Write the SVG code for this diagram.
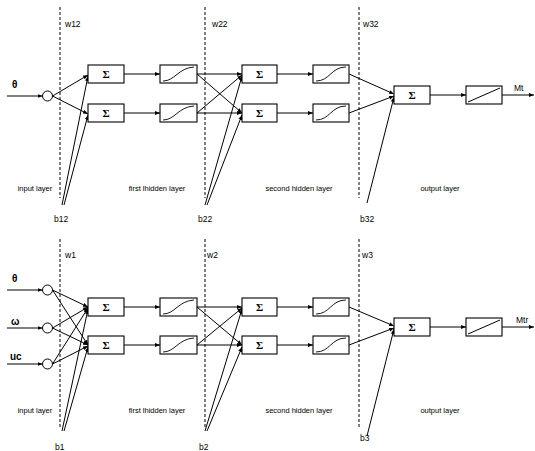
<svg xmlns="http://www.w3.org/2000/svg" width="535" height="451" viewBox="0 0 535 451">
<defs>
<marker id="ah" viewBox="0 0 10 10" refX="10" refY="5" markerWidth="5" markerHeight="5" orient="auto" markerUnits="userSpaceOnUse">
<path d="M0,1 L10,5 L0,9 Z" fill="#000"/>
</marker>
<style>
.box{fill:#fff;stroke:#000;stroke-width:1.1}
.c{fill:#fff;stroke:#000;stroke-width:1}
.ln{fill:none;stroke:#000;stroke-width:1;marker-end:url(#ah)}
.pl{fill:none;stroke:#000;stroke-width:1}
.dash{stroke:#000;stroke-width:1;stroke-dasharray:3,2}
.t{font-family:"Liberation Sans",Arial,sans-serif;font-size:8.5px;fill:#000}
.s{font-family:"Liberation Sans",Arial,sans-serif;font-size:7.5px;fill:#000;text-anchor:middle}
.b{font-family:"Liberation Sans",Arial,sans-serif;font-size:10px;font-weight:bold;fill:#000}
.sig{font-family:"Liberation Serif","Times New Roman",serif;font-size:11px;font-weight:bold;fill:#000;text-anchor:middle}
.curve{fill:none;stroke:#000;stroke-width:0.9}
</style>
</defs>
<rect width="535" height="451" fill="#fff"/>

<g id="guides">
<line class="dash" x1="60" y1="7" x2="60" y2="198"/>
<line class="dash" x1="205" y1="7" x2="205" y2="198"/>
<line class="dash" x1="359" y1="7" x2="359" y2="198"/>
<line class="dash" x1="60" y1="239" x2="60" y2="429"/>
<line class="dash" x1="205" y1="239" x2="205" y2="429"/>
<line class="dash" x1="359" y1="239" x2="359" y2="429"/>
</g>

<g id="connectors">
<line class="ln" x1="7" y1="96" x2="42.5" y2="96"/>
<line class="ln" x1="52.5" y1="96" x2="88" y2="75"/>
<line class="ln" x1="52.5" y1="96" x2="88" y2="114"/>
<line class="ln" x1="62" y1="205" x2="88" y2="76"/>
<line class="ln" x1="64" y1="205" x2="88" y2="115"/>
<line class="ln" x1="124" y1="74" x2="160" y2="74"/>
<line class="ln" x1="124" y1="113" x2="160" y2="113"/>
<line class="ln" x1="197" y1="74" x2="242" y2="74"/>
<line class="ln" x1="197" y1="113" x2="242" y2="113"/>
<line class="ln" x1="197" y1="74" x2="242" y2="113"/>
<line class="ln" x1="197" y1="113" x2="242" y2="75"/>
<line class="ln" x1="205" y1="205" x2="242" y2="76"/>
<line class="ln" x1="207" y1="205" x2="242" y2="115"/>
<line class="ln" x1="277" y1="74" x2="313" y2="74"/>
<line class="ln" x1="277" y1="113" x2="313" y2="113"/>
<line class="ln" x1="349" y1="74" x2="394" y2="94"/>
<line class="ln" x1="349" y1="113" x2="394" y2="96"/>
<line class="ln" x1="367" y1="203" x2="394" y2="97"/>
<line class="ln" x1="430" y1="95" x2="466" y2="95"/>
<line class="ln" x1="502" y1="95" x2="534" y2="95"/>
<line class="ln" x1="7" y1="290" x2="42.5" y2="290"/>
<line class="ln" x1="7" y1="328" x2="42.5" y2="328"/>
<line class="ln" x1="7" y1="364" x2="42.5" y2="364"/>
<line class="ln" x1="52.5" y1="290" x2="88" y2="307"/>
<line class="ln" x1="52.5" y1="290" x2="88" y2="345"/>
<line class="ln" x1="52.5" y1="328" x2="88" y2="307"/>
<line class="ln" x1="52.5" y1="328" x2="88" y2="345"/>
<line class="ln" x1="52.5" y1="364" x2="88" y2="308"/>
<line class="ln" x1="52.5" y1="364" x2="88" y2="346"/>
<line class="ln" x1="62" y1="431" x2="88" y2="309"/>
<line class="ln" x1="64" y1="431" x2="88" y2="347"/>
<line class="ln" x1="124" y1="307" x2="160" y2="307"/>
<line class="ln" x1="124" y1="345" x2="160" y2="345"/>
<line class="ln" x1="197" y1="307" x2="242" y2="307"/>
<line class="ln" x1="197" y1="345" x2="242" y2="345"/>
<line class="ln" x1="197" y1="307" x2="242" y2="345"/>
<line class="ln" x1="197" y1="345" x2="242" y2="308"/>
<line class="ln" x1="205" y1="431" x2="242" y2="309"/>
<line class="ln" x1="207" y1="431" x2="242" y2="347"/>
<line class="ln" x1="277" y1="307" x2="313" y2="307"/>
<line class="ln" x1="277" y1="345" x2="313" y2="345"/>
<line class="ln" x1="349" y1="307" x2="394" y2="326"/>
<line class="ln" x1="349" y1="345" x2="394" y2="328"/>
<line class="ln" x1="367" y1="436" x2="394" y2="329"/>
<line class="ln" x1="430" y1="327" x2="466" y2="327"/>
<line class="ln" x1="502" y1="327" x2="534" y2="327"/>
</g>

<g id="in_theta_top"><circle class="c" cx="47.5" cy="96" r="5"/></g>
<g id="sum11"><rect class="box" x="88" y="65" width="36" height="18"/><text class="sig" x="106" y="78">Σ</text></g>
<g id="sum12"><rect class="box" x="88" y="104" width="36" height="18"/><text class="sig" x="106" y="117">Σ</text></g>
<g id="sigm11"><rect class="box" x="160" y="65" width="37" height="18"/><path class="curve" d="M163,81 C175,81 178,68 194,67"/></g>
<g id="sigm12"><rect class="box" x="160" y="104" width="37" height="18"/><path class="curve" d="M163,120 C175,120 178,107 194,106"/></g>
<g id="sum21"><rect class="box" x="242" y="65" width="35" height="18"/><text class="sig" x="259.5" y="78">Σ</text></g>
<g id="sum22"><rect class="box" x="242" y="104" width="35" height="18"/><text class="sig" x="259.5" y="117">Σ</text></g>
<g id="sigm21"><rect class="box" x="313" y="65" width="36" height="18"/><path class="curve" d="M316,81 C330,81 331,67 346,67"/></g>
<g id="sigm22"><rect class="box" x="313" y="104" width="36" height="18"/><path class="curve" d="M316,120 C330,120 331,106 346,106"/></g>
<g id="sumout_top"><rect class="box" x="394" y="86" width="36" height="18"/><text class="sig" x="412" y="99">Σ</text></g>
<g id="lin_top"><rect class="box" x="466" y="86" width="36" height="18"/><line class="pl" x1="468" y1="102" x2="500" y2="88"/></g>

<g id="in_theta"><circle class="c" cx="47.5" cy="290" r="5"/></g>
<g id="in_omega"><circle class="c" cx="47.5" cy="328" r="5"/></g>
<g id="in_uc"><circle class="c" cx="47.5" cy="364" r="5"/></g>
<g id="sum1a"><rect class="box" x="88" y="298" width="36" height="18"/><text class="sig" x="106" y="311">Σ</text></g>
<g id="sum1b"><rect class="box" x="88" y="336" width="36" height="18"/><text class="sig" x="106" y="349">Σ</text></g>
<g id="sigm1a"><rect class="box" x="160" y="298" width="37" height="18"/><path class="curve" d="M163,314 C175,314 178,301 194,300"/></g>
<g id="sigm1b"><rect class="box" x="160" y="336" width="37" height="18"/><path class="curve" d="M163,352 C175,352 178,339 194,338"/></g>
<g id="sum2a"><rect class="box" x="242" y="298" width="35" height="18"/><text class="sig" x="259.5" y="311">Σ</text></g>
<g id="sum2b"><rect class="box" x="242" y="336" width="35" height="18"/><text class="sig" x="259.5" y="349">Σ</text></g>
<g id="sigm2a"><rect class="box" x="313" y="298" width="36" height="18"/><path class="curve" d="M316,314 C330,314 331,300 346,300"/></g>
<g id="sigm2b"><rect class="box" x="313" y="336" width="36" height="18"/><path class="curve" d="M316,352 C330,352 331,338 346,338"/></g>
<g id="sumout"><rect class="box" x="394" y="318" width="36" height="18"/><text class="sig" x="412" y="331">Σ</text></g>
<g id="lin"><rect class="box" x="466" y="318" width="36" height="18"/><line class="pl" x1="468" y1="334" x2="500" y2="320"/></g>

<g id="labels">
<text class="t" x="65" y="27">w12</text>
<text class="t" x="212" y="27">w22</text>
<text class="t" x="363" y="27">w32</text>
<text class="b" x="12" y="88">θ</text>
<text class="t" x="514" y="91">Mt</text>
<text class="t" x="54" y="222">b12</text>
<text class="t" x="198" y="222">b22</text>
<text class="t" x="360" y="222">b32</text>
<text class="s" x="35" y="191">input layer</text>
<text class="s" x="157" y="191">first lhidden layer</text>
<text class="s" x="299" y="191">second hidden layer</text>
<text class="s" x="440" y="191">output layer</text>

<text class="t" x="65" y="258">w1</text>
<text class="t" x="207" y="258">w2</text>
<text class="t" x="362" y="258">w3</text>
<text class="b" x="12" y="282">θ</text>
<text class="b" x="11" y="325">ω</text>
<text class="b" x="10" y="360">uc</text>
<text class="t" x="516" y="323">Mtr</text>
<text class="t" x="55" y="450">b1</text>
<text class="t" x="199" y="450">b2</text>
<text class="t" x="360" y="441">b3</text>
<text class="s" x="35" y="413">input layer</text>
<text class="s" x="157" y="413">first lhidden layer</text>
<text class="s" x="299" y="413">second hidden layer</text>
<text class="s" x="440" y="413">output layer</text>
</g>
</svg>
